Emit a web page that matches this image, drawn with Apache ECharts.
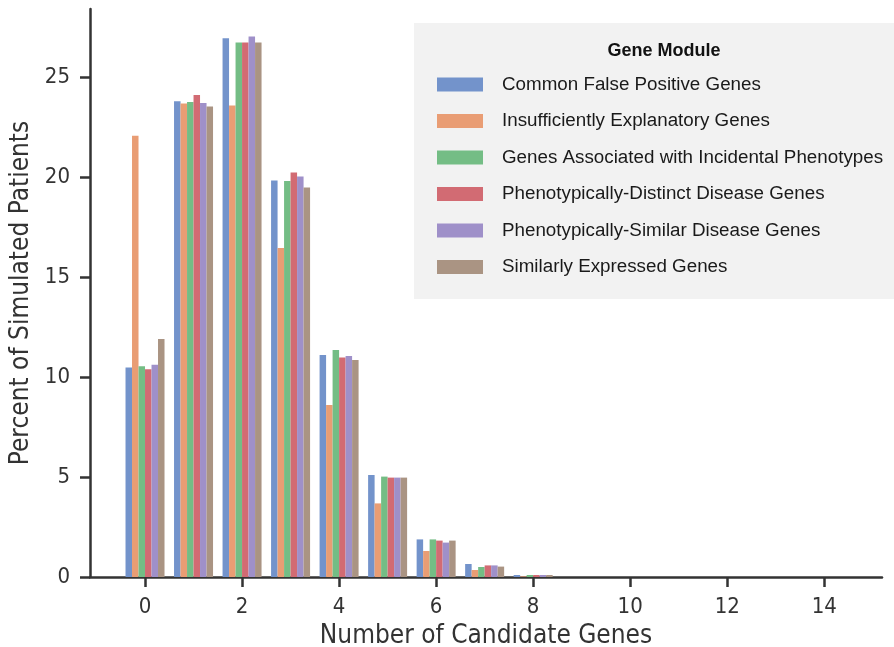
<!DOCTYPE html>
<html>
<head>
<meta charset="utf-8">
<script src="https://cdn.jsdelivr.net/npm/echarts@6/dist/echarts.min.js"></script>
<style>
html,body{margin:0;padding:0;background:#fff;}
#chart{width:894px;height:647px;}
</style>
</head>
<body>
<div id="chart"></div>
<script>
const candidateCounts = [0, 1, 2, 3, 4, 5, 6, 7, 8, 9, 10, 11, 12, 13, 14];
const xTickLabels = [0, 2, 4, 6, 8, 10, 12, 14];
const yTickLabels = [0, 5, 10, 15, 20, 25];
const seriesNames = [
  'Common False Positive Genes',
  'Insufficiently Explanatory Genes',
  'Genes Associated with Incidental Phenotypes',
  'Phenotypically-Distinct Disease Genes',
  'Phenotypically-Similar Disease Genes',
  'Similarly Expressed Genes'
];
const commonFalsePositive   = [10.48, 23.79, 26.94, 19.82, 11.10, 5.10, 1.88, 0.65, 0.10, 0, 0, 0, 0, 0, 0];
const insufficientlyExpl    = [22.06, 23.68, 23.57, 16.45, 8.60, 3.68, 1.30, 0.35, 0.03, 0, 0, 0, 0, 0, 0];
const incidentalPhenotypes  = [10.54, 23.75, 26.72, 19.80, 11.35, 5.02, 1.88, 0.50, 0.10, 0, 0, 0, 0, 0, 0];
const distinctDisease       = [10.39, 24.10, 26.72, 20.23, 10.97, 4.97, 1.82, 0.58, 0.10, 0, 0, 0, 0, 0, 0];
const similarDisease        = [10.61, 23.70, 27.02, 20.02, 11.05, 4.97, 1.72, 0.58, 0.10, 0, 0, 0, 0, 0, 0];
const similarlyExpressed    = [11.90, 23.52, 26.72, 19.47, 10.85, 4.97, 1.82, 0.52, 0.10, 0, 0, 0, 0, 0, 0];
const seriesValues = [commonFalsePositive, insufficientlyExpl, incidentalPhenotypes, distinctDisease, similarDisease, similarlyExpressed];
const colors = ['#7393cb', '#e99d74', '#74bd85', '#d26b73', '#9f90c9', '#aa9483'];

const el = document.getElementById('chart');
const chart = echarts.init(el, null, {renderer: 'canvas'});
const axisFont = '"DejaVu Sans Condensed", "DejaVu Sans", sans-serif';
const series = seriesNames.map((name, i) => ({
  name: name,
  type: 'bar',
  barWidth: 6.5,
  barGap: '0%',
  itemStyle: {color: colors[i]},
  data: candidateCounts.map((c, j) => [c, seriesValues[i][j]])
}));

chart.setOption({
  animation: false,
  backgroundColor: '#ffffff',
  grid: {left: 90, right: 12, top: 9, bottom: 70, containLabel: false, outerBoundsMode: 'none'},
  graphic: [{
    type: 'rect', z: -1, silent: true,
    shape: {x: 414, y: 23, width: 480, height: 276},
    style: {fill: '#f2f2f2'}
  }],
  title: {
    text: 'Gene Module',
    left: 659, top: 37, textAlign: 'center',
    textStyle: {fontFamily: '"Liberation Sans", Arial, sans-serif', fontWeight: 'bold', fontSize: 18, color: '#111'}
  },
  legend: {
    orient: 'vertical',
    left: 432, top: 70,
    itemWidth: 46, itemHeight: 14, itemGap: 17.5,
    icon: 'rect',
    data: seriesNames,
    textStyle: {fontFamily: '"Liberation Sans", Arial, sans-serif', fontSize: 18.8, color: '#1a1a1a', lineHeight: 18, padding: [0, 0, 0, 14]}
  },
  xAxis: {
    type: 'value',
    min: -1.134, max: 15.19,
    name: 'Number of Candidate Genes',
    nameLocation: 'middle', nameGap: 44,
    nameTextStyle: {fontFamily: axisFont, fontSize: 26, color: '#333'},
    axisLine: {show: true, onZero: false, lineStyle: {color: '#333', width: 2.5}},
    axisTick: {show: true, length: 10, customValues: xTickLabels, lineStyle: {color: '#333', width: 2.5}},
    axisLabel: {customValues: xTickLabels, margin: 19, fontFamily: axisFont, fontSize: 22, color: '#333'},
    splitLine: {show: false}
  },
  yAxis: {
    type: 'value',
    min: 0, max: 28.4,
    name: 'Percent of Simulated Patients',
    nameLocation: 'middle', nameGap: 52, nameRotate: 90,
    nameTextStyle: {fontFamily: axisFont, fontSize: 26, color: '#333'},
    axisLine: {show: true, onZero: false, lineStyle: {color: '#333', width: 2.5}},
    axisTick: {show: true, length: 10, customValues: yTickLabels, lineStyle: {color: '#333', width: 2.5}},
    axisLabel: {customValues: yTickLabels, margin: 20, fontFamily: axisFont, fontSize: 22, color: '#333'},
    splitLine: {show: false}
  },
  series: series
});
</script>
</body>
</html>
